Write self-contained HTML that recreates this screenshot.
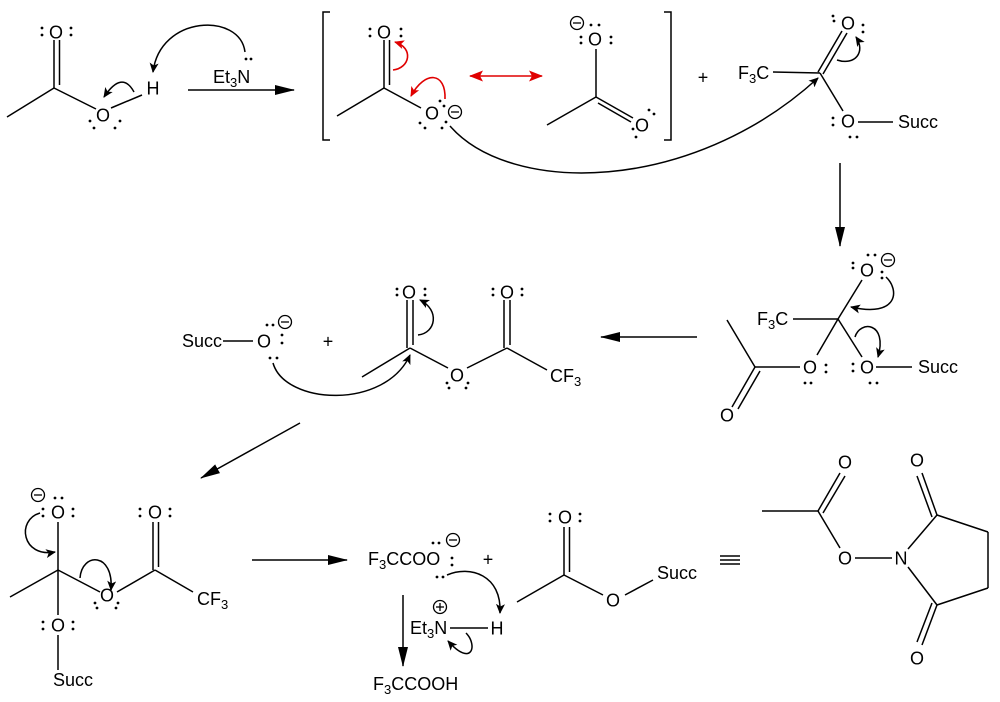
<!DOCTYPE html>
<html><head><meta charset="utf-8"><style>
html,body{margin:0;padding:0;background:#fff;}
svg{display:block;}
text{font-family:"Liberation Sans",Arial,sans-serif;font-size:18px;fill:#000;}
</style></head><body>
<svg width="1000" height="702" viewBox="0 0 1000 702" xmlns="http://www.w3.org/2000/svg">
<defs>
<marker id="s" markerUnits="userSpaceOnUse" markerWidth="10" markerHeight="9" viewBox="0 0 10 9" refX="9" refY="4.5" orient="auto"><path d="M0,0 L10,4.5 L0,9 L2.5,4.5z" fill="#000"/></marker>
<marker id="r" markerUnits="userSpaceOnUse" markerWidth="10" markerHeight="9" viewBox="0 0 10 9" refX="9" refY="4.5" orient="auto"><path d="M0,0 L10,4.5 L0,9 L2.5,4.5z" fill="#e00000"/></marker>
<marker id="rr" markerUnits="userSpaceOnUse" markerWidth="14" markerHeight="11" viewBox="0 0 14 11" refX="13" refY="5.5" orient="auto-start-reverse"><path d="M0,0 L14,5.5 L0,11 L3,5.5z" fill="#e00000"/></marker>
<marker id="b" markerUnits="userSpaceOnUse" markerWidth="20" markerHeight="10" viewBox="0 0 20 10" refX="19" refY="5" orient="auto"><path d="M0,0 L20,5 L0,10 z" fill="#000"/></marker>
</defs>

<g stroke="#000" stroke-width="1.5" fill="none" stroke-linecap="butt">
<!-- S1 acetic acid -->
<line x1="54" y1="40" x2="54" y2="88"/><line x1="59.5" y1="40" x2="59.5" y2="85"/>
<line x1="7" y1="117" x2="54" y2="88"/>
<line x1="54" y1="88" x2="96" y2="109"/>
<line x1="111" y1="108" x2="142" y2="95"/>
<path d="M134,92 Q122,70 104,97" marker-end="url(#s)"/>
<path d="M245,52 C240,12 160,15 153,72" marker-end="url(#s)"/>
<!-- arrow 1 -->
<line x1="188" y1="90" x2="294" y2="90" marker-end="url(#b)"/>
<!-- brackets -->
<path d="M330,12 L323,12 L323,140 L330,140"/>
<path d="M664,12 L671,12 L671,140 L664,140"/>
<!-- S2 -->
<line x1="384" y1="40" x2="384" y2="88"/><line x1="389.5" y1="40" x2="389.5" y2="85"/>
<line x1="337" y1="116" x2="384" y2="88"/>
<line x1="384" y1="88" x2="421" y2="108"/>
<!-- S3 -->
<line x1="596" y1="49" x2="596" y2="97"/>
<line x1="547" y1="125" x2="596" y2="97"/>
<line x1="596" y1="97" x2="633" y2="118"/>
<line x1="598" y1="103" x2="631" y2="122"/>
<!-- big curve -->
<path d="M450,126 C510,195 690,195 818,78" marker-end="url(#s)"/>
<!-- S4 -->
<line x1="773" y1="72" x2="820" y2="73"/>
<line x1="818" y1="72" x2="842" y2="31"/><line x1="823" y1="74" x2="847" y2="33"/>
<line x1="820" y1="73" x2="843" y2="111"/>
<line x1="858" y1="122" x2="893" y2="122"/>
<path d="M837,60 C855,66 866,52 856,37" marker-end="url(#s)"/>
<!-- down arrow -->
<line x1="840" y1="163" x2="840" y2="246" marker-end="url(#b)"/>
<!-- S5 -->
<line x1="793" y1="319" x2="838" y2="319"/>
<line x1="838" y1="319" x2="862" y2="280"/>
<line x1="838" y1="319" x2="862" y2="357"/>
<line x1="838" y1="319" x2="817" y2="355"/>
<line x1="876" y1="367" x2="912" y2="367"/>
<line x1="800" y1="367" x2="755" y2="367"/>
<line x1="755" y1="367" x2="727" y2="320"/>
<line x1="755" y1="367" x2="732" y2="407"/><line x1="760" y1="371" x2="738" y2="409"/>
<path d="M886,277 C900,290 898,318 851,307" marker-end="url(#s)"/>
<path d="M855,337 C860,320 888,322 878,357" marker-end="url(#s)"/>
<!-- left arrow -->
<line x1="697" y1="337" x2="601" y2="337" marker-end="url(#b)"/>
<!-- S6 -->
<line x1="223" y1="341" x2="253" y2="341"/>
<line x1="362" y1="377" x2="410" y2="348"/>
<line x1="407" y1="300" x2="407" y2="348"/><line x1="413" y1="300" x2="413" y2="345"/>
<line x1="410" y1="348" x2="448" y2="368"/>
<line x1="467" y1="368" x2="507" y2="348"/>
<line x1="504" y1="300" x2="504" y2="348"/><line x1="510" y1="300" x2="510" y2="345"/>
<line x1="507" y1="348" x2="547" y2="370"/>
<path d="M273,363 C285,405 385,410 410,355" marker-end="url(#s)"/>
<path d="M418,335 C436,333 440,310 420,300" marker-end="url(#s)"/>
<!-- diagonal arrow -->
<line x1="300" y1="423" x2="201" y2="478" marker-end="url(#b)"/>
<!-- S7 -->
<line x1="58" y1="570" x2="58" y2="522"/>
<line x1="58" y1="570" x2="10" y2="597"/>
<line x1="58" y1="570" x2="58" y2="615"/>
<line x1="58" y1="635" x2="58" y2="670"/>
<line x1="58" y1="570" x2="100" y2="592"/>
<line x1="117" y1="592" x2="155" y2="570"/>
<line x1="153" y1="522" x2="153" y2="570"/><line x1="158.5" y1="522" x2="158.5" y2="567"/>
<line x1="155" y1="570" x2="193" y2="592"/>
<path d="M40,513 C16,520 22,558 55,552" marker-end="url(#s)"/>
<path d="M80,578 C82,552 114,552 111,590" marker-end="url(#s)"/>
<!-- arrow -->
<line x1="252" y1="560" x2="347" y2="560" marker-end="url(#b)"/>
<!-- S8 -->
<path d="M447,575 C470,565 502,575 500,613" marker-end="url(#s)"/>
<line x1="403" y1="595" x2="403" y2="666" marker-end="url(#b)"/>
<line x1="450" y1="628" x2="488" y2="628"/>
<path d="M466,633 C478,645 472,668 448,641" marker-end="url(#s)"/>
<!-- S9 -->
<line x1="564" y1="527" x2="564" y2="575"/><line x1="569.5" y1="527" x2="569.5" y2="572"/>
<line x1="517" y1="602" x2="564" y2="575"/>
<line x1="564" y1="575" x2="603" y2="595"/>
<line x1="625" y1="595" x2="653" y2="580"/>
<!-- equiv -->
<line x1="720" y1="556" x2="740" y2="556"/><line x1="720" y1="560" x2="740" y2="560"/><line x1="720" y1="564" x2="740" y2="564"/>
<!-- S10 -->
<line x1="762" y1="511" x2="818" y2="511"/>
<line x1="818" y1="511" x2="840" y2="473"/><line x1="823" y1="513" x2="845" y2="476"/>
<line x1="818" y1="511" x2="840" y2="548"/>
<line x1="855" y1="558" x2="892" y2="558"/>
<line x1="908" y1="549" x2="937" y2="515"/>
<line x1="937" y1="515" x2="988" y2="532"/>
<line x1="988" y1="532" x2="988" y2="588"/>
<line x1="988" y1="588" x2="937" y2="605"/>
<line x1="937" y1="605" x2="908" y2="567"/>
<line x1="937" y1="515" x2="922" y2="473"/><line x1="932" y1="517" x2="917" y2="476"/>
<line x1="937" y1="605" x2="922" y2="645"/><line x1="932" y1="603" x2="917" y2="642"/>
</g>

<!-- red arrows -->
<g stroke="#e00000" stroke-width="1.6" fill="none">
<path d="M393,70 C410,68 414,48 395,42" marker-end="url(#r)"/>
<path d="M445,99 C446,72 425,70 411,96" marker-end="url(#r)"/>
<line x1="470" y1="76" x2="542" y2="76" marker-start="url(#rr)" marker-end="url(#rr)"/>
</g>

<!-- charge circles -->
<g stroke="#000" stroke-width="1.3" fill="none">
<circle cx="455" cy="112" r="6.5"/><line x1="451" y1="112" x2="459" y2="112"/>
<circle cx="577" cy="23" r="6.5"/><line x1="573" y1="23" x2="581" y2="23"/>
<circle cx="888" cy="260" r="6.5"/><line x1="884" y1="260" x2="892" y2="260"/>
<circle cx="285" cy="322" r="6.5"/><line x1="281" y1="322" x2="289" y2="322"/>
<circle cx="38" cy="495" r="6.5"/><line x1="34" y1="495" x2="42" y2="495"/>
<circle cx="453" cy="540" r="6.5"/><line x1="449" y1="540" x2="457" y2="540"/>
<circle cx="440" cy="607" r="6.5"/><line x1="436" y1="607" x2="444" y2="607"/><line x1="440" y1="603" x2="440" y2="611"/>
</g>

<!-- lone pair dots -->
<g fill="#000">
<circle cx="42" cy="28" r="1.4"/><circle cx="42" cy="35" r="1.4"/><circle cx="71" cy="28" r="1.4"/><circle cx="71" cy="35" r="1.4"/>
<circle cx="90" cy="121" r="1.4"/><circle cx="94" cy="128" r="1.4"/><circle cx="120" cy="121" r="1.4"/><circle cx="115" cy="128" r="1.4"/>
<circle cx="246" cy="59" r="1.4"/><circle cx="251" cy="59" r="1.4"/>
<circle cx="370" cy="29" r="1.4"/><circle cx="370" cy="36" r="1.4"/><circle cx="401" cy="29" r="1.4"/><circle cx="401" cy="36" r="1.4"/>
<circle cx="440" cy="101" r="1.4"/><circle cx="444" cy="106" r="1.4"/><circle cx="420" cy="123" r="1.4"/><circle cx="425" cy="128" r="1.4"/><circle cx="446" cy="122" r="1.4"/><circle cx="442" cy="128" r="1.4"/>
<circle cx="591" cy="25" r="1.4"/><circle cx="599" cy="25" r="1.4"/><circle cx="581" cy="37" r="1.4"/><circle cx="581" cy="43" r="1.4"/><circle cx="611" cy="37" r="1.4"/><circle cx="611" cy="43" r="1.4"/>
<circle cx="649" cy="110" r="1.4"/><circle cx="654" cy="114" r="1.4"/><circle cx="633" cy="129" r="1.4"/><circle cx="636" cy="137" r="1.4"/>
<circle cx="833" cy="16" r="1.4"/><circle cx="834" cy="21" r="1.4"/><circle cx="863" cy="25" r="1.4"/><circle cx="863" cy="32" r="1.4"/>
<circle cx="833" cy="118" r="1.4"/><circle cx="833" cy="125" r="1.4"/><circle cx="850" cy="137" r="1.4"/><circle cx="857" cy="137" r="1.4"/>
<circle cx="853" cy="263" r="1.4"/><circle cx="853" cy="268" r="1.4"/><circle cx="868" cy="255" r="1.4"/><circle cx="875" cy="255" r="1.4"/><circle cx="882" cy="272" r="1.4"/><circle cx="882" cy="278" r="1.4"/>
<circle cx="853" cy="364" r="1.4"/><circle cx="853" cy="371" r="1.4"/><circle cx="870" cy="383" r="1.4"/><circle cx="877" cy="383" r="1.4"/>
<circle cx="826" cy="365" r="1.4"/><circle cx="826" cy="372" r="1.4"/><circle cx="805" cy="383" r="1.4"/><circle cx="811" cy="383" r="1.4"/>
<circle cx="267" cy="325" r="1.4"/><circle cx="273" cy="325" r="1.4"/><circle cx="282" cy="335" r="1.4"/><circle cx="282" cy="343" r="1.4"/><circle cx="270" cy="358" r="1.4"/><circle cx="277" cy="358" r="1.4"/>
<circle cx="397" cy="289" r="1.4"/><circle cx="397" cy="295" r="1.4"/><circle cx="425" cy="289" r="1.4"/><circle cx="425" cy="295" r="1.4"/>
<circle cx="447" cy="383" r="1.4"/><circle cx="449" cy="388" r="1.4"/><circle cx="468" cy="383" r="1.4"/><circle cx="466" cy="388" r="1.4"/>
<circle cx="493" cy="289" r="1.4"/><circle cx="493" cy="295" r="1.4"/><circle cx="522" cy="289" r="1.4"/><circle cx="522" cy="295" r="1.4"/>
<circle cx="43" cy="509" r="1.4"/><circle cx="43" cy="516" r="1.4"/><circle cx="73" cy="509" r="1.4"/><circle cx="73" cy="516" r="1.4"/><circle cx="55" cy="498" r="1.4"/><circle cx="62" cy="498" r="1.4"/>
<circle cx="43" cy="622" r="1.4"/><circle cx="43" cy="629" r="1.4"/><circle cx="73" cy="622" r="1.4"/><circle cx="73" cy="629" r="1.4"/>
<circle cx="95" cy="603" r="1.4"/><circle cx="97" cy="608" r="1.4"/><circle cx="118" cy="603" r="1.4"/><circle cx="116" cy="608" r="1.4"/>
<circle cx="140" cy="509" r="1.4"/><circle cx="140" cy="516" r="1.4"/><circle cx="170" cy="509" r="1.4"/><circle cx="170" cy="516" r="1.4"/>
<circle cx="433" cy="543" r="1.4"/><circle cx="439" cy="543" r="1.4"/><circle cx="452" cy="558" r="1.4"/><circle cx="452" cy="565" r="1.4"/><circle cx="437" cy="577" r="1.4"/><circle cx="443" cy="577" r="1.4"/>
<circle cx="550" cy="514" r="1.4"/><circle cx="550" cy="521" r="1.4"/><circle cx="580" cy="514" r="1.4"/><circle cx="580" cy="521" r="1.4"/>
</g>

<!-- text -->
<g text-anchor="middle">
<text x="56" y="38.5">O</text>
<text x="103" y="121.5">O</text>
<text x="153" y="94.5">H</text>
<text x="384" y="38.5">O</text>
<text x="432" y="119.5">O</text>
<text x="595" y="45.5">O</text>
<text x="642" y="131.5">O</text>
<text x="703" y="83.5">+</text>
<text x="848" y="29.5">O</text>
<text x="848" y="127.5">O</text>
<text x="867" y="276.5">O</text>
<text x="867" y="373.5">O</text>
<text x="810" y="373.5">O</text>
<text x="727" y="421.5">O</text>
<text x="264" y="347.5">O</text>
<text x="328" y="347.5">+</text>
<text x="409" y="298.5">O</text>
<text x="457" y="381.5">O</text>
<text x="507" y="298.5">O</text>
<text x="58" y="518.5">O</text>
<text x="58" y="631.5">O</text>
<text x="107" y="601.5">O</text>
<text x="155" y="518.5">O</text>
<text x="488" y="565.5">+</text>
<text x="497" y="634.5">H</text>
<text x="565" y="523.5">O</text>
<text x="613" y="606.5">O</text>
<text x="845" y="468.5">O</text>
<text x="845" y="564.5">O</text>
<text x="901" y="564.5">N</text>
<text x="917" y="466.5">O</text>
<text x="917" y="664.5">O</text>
</g>
<text x="213" y="83">Et<tspan font-size="13" dy="4">3</tspan><tspan dy="-4">N</tspan></text>
<text x="738" y="79">F<tspan font-size="13" dy="4">3</tspan><tspan dy="-4">C</tspan></text>
<text x="898" y="128">Succ</text>
<text x="757" y="325">F<tspan font-size="13" dy="4">3</tspan><tspan dy="-4">C</tspan></text>
<text x="918" y="373">Succ</text>
<text x="182" y="347">Succ</text>
<text x="550" y="382">CF<tspan font-size="13" dy="4">3</tspan></text>
<text x="53" y="686">Succ</text>
<text x="197" y="605">CF<tspan font-size="13" dy="4">3</tspan></text>
<text x="368" y="565">F<tspan font-size="13" dy="4">3</tspan><tspan dy="-4">CCOO</tspan></text>
<text x="410" y="634">Et<tspan font-size="13" dy="4">3</tspan><tspan dy="-4">N</tspan></text>
<text x="373" y="690">F<tspan font-size="13" dy="4">3</tspan><tspan dy="-4">CCOOH</tspan></text>
<text x="657" y="579">Succ</text>
</svg>
</body></html>
